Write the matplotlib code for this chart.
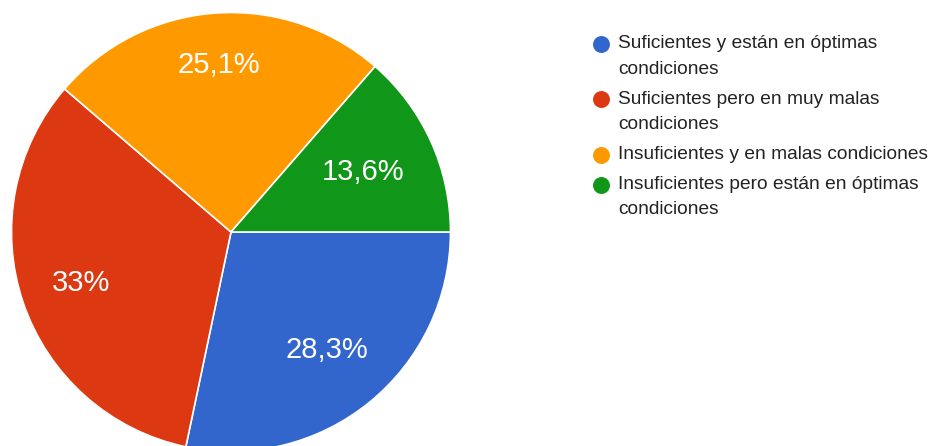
import matplotlib.pyplot as plt
import numpy as np

# Data
categorias = [
    "Suficientes y están en óptimas\ncondiciones",
    "Suficientes pero en muy malas\ncondiciones",
    "Insuficientes y en malas condiciones",
    "Insuficientes pero están en óptimas\ncondiciones",
]
valores = [28.3, 33.0, 25.1, 13.6]
colores = ["#3366CC", "#DC3912", "#FF9900", "#109618"]

W, H = 935, 446
CX, CY, R = 231, H - 232, 219.5
# radial position of each percent label (fraction of radius)
DIST_ETIQUETA = [0.69, 0.72, 0.765, 0.66]


def fmt_pct(p):
    s = f"{p:.1f}".rstrip("0").rstrip(".")
    return s.replace(".", ",") + "%"


fig = plt.figure(figsize=(W / 100, H / 100), dpi=100)
ax = fig.add_axes([0, 0, 1, 1])

# pie drawn in pixel-like data coordinates
wedges, _, autotexts = ax.pie(
    valores,
    colors=colores,
    startangle=0,
    counterclock=False,
    center=(CX, CY),
    radius=R,
    autopct=fmt_pct,
    pctdistance=0.69,
    wedgeprops=dict(edgecolor="white", linewidth=1.2),
    textprops=dict(color="white", fontsize=21, family="Liberation Sans"),
)
for w, t, d in zip(wedges, autotexts, DIST_ETIQUETA):
    ang = np.deg2rad((w.theta1 + w.theta2) / 2)
    t.set_position((CX + d * R * np.cos(ang), CY + d * R * np.sin(ang)))

# legend: marker aligned with first line of each label
y = 43.5
line_step = 25.5
item_gap = 4.5
for cat, col in zip(categorias, colores):
    ax.plot(601, H - y, marker="o", markersize=12.2, color=col,
            markeredgewidth=0, linestyle="none")
    lineas = cat.split("\n")
    for i, linea in enumerate(lineas):
        ax.text(618, H - (y + i * line_step), linea, fontsize=13.8,
                family="Liberation Sans", color="#222222",
                ha="left", va="center")
    y += len(lineas) * line_step + item_gap

ax.set_xlim(0, W)
ax.set_ylim(0, H)
ax.set_aspect("auto")
ax.axis("off")

fig.savefig("out.png", dpi=100, facecolor="white")
